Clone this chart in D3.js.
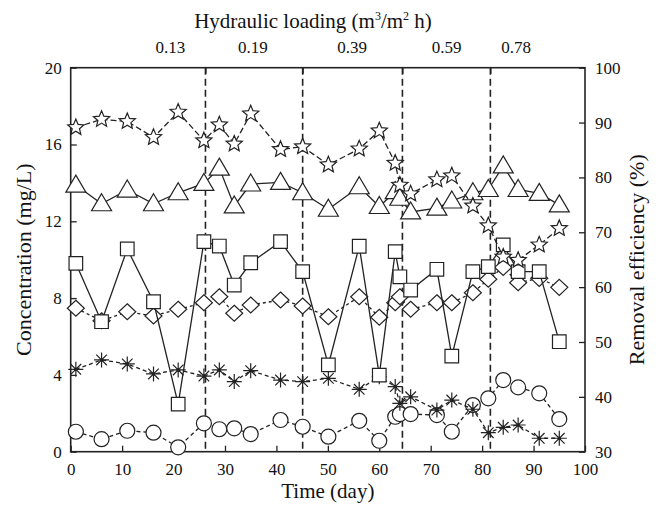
<!doctype html>
<html>
<head>
<meta charset="utf-8">
<script src="https://d3js.org/d3.v7.min.js"></script>
<style>
  body { margin: 0; background: #fff; }
  text { font-family: "Liberation Serif", "Times New Roman", serif; fill: #111; }
</style>
</head>
<body>
<svg id="chart"></svg>
<script>

    // sampling days (shared by every series)
    var days = [1, 6, 11, 16.1, 20.9, 25.9, 28.9, 31.8, 35, 40.8, 45.1, 50.1, 56.1, 60,
        63.1, 64, 66.1, 71.2, 74.1, 78.2, 81.2, 84.1, 87, 91.1, 95];

    // removal efficiency (%), right axis
    var starVals = [89.1, 90.6, 90.2, 87.3, 91.9, 86.7, 89.6, 86.1, 91.6, 85.1, 85.6, 82.3, 85.2, 88.5,
        82.6, 78.6, 77.0, 79.6, 80.3, 74.8, 71.2, 65.5, 64.9, 67.7, 70.7];
    var triVals = [78.6, 75.2, 77.7, 75.2, 77.2, 78.9, 81.7, 74.8, 78.8, 79.1, 77.2, 74.2, 78.3, 74.7,
        77.4, 76.2, 73.7, 74.4, 75.7, 77.2, 77.8, 82.1, 77.8, 77.1, 75.0];

    // concentration (mg/L), left axis
    var squareVals = [9.81, 6.77, 10.56, 7.81, 2.48, 10.94, 10.71, 8.68, 9.84, 10.94, 9.38, 4.52, 10.7, 3.99,
        10.42, 9.11, 8.42, 9.5, 4.98, 9.38, 9.64, 10.77, 9.38, 9.38, 5.73];
    var diamondVals = [7.47, 6.82, 7.29, 7.07, 7.42, 7.76, 8.07, 7.21, 7.64, 7.9, 7.59, 7.03, 8.07, 7.0,
        7.76, 8.07, 7.42, 7.76, 7.76, 8.28, 8.98, 9.6, 8.8, 9.03, 8.56];
    var asteriskVals = [4.29, 4.78, 4.57, 4.05, 4.26, 3.94, 4.26, 3.65, 4.22, 3.73, 3.65, 3.82, 3.25, 3.91,
        3.39, 2.52, 2.86, 2.17, 2.69, 2.21, 0.99, 1.27, 1.39, 0.7, 0.7];
    var circleVals = [1.04, 0.65, 1.09, 0.99, 0.23, 1.48, 1.17, 1.22, 0.92, 1.65, 1.30, 0.78, 1.61, 0.57,
        1.82, 1.96, 1.96, 1.91, 1.04, 2.43, 2.78, 3.73, 3.35, 3.04, 1.70];

    // hydraulic loading periods
    var loadingBreaks = [26.2, 45.1, 64.5, 81.6];
    var loadingLabels = ["0.13", "0.19", "0.39", "0.59", "0.78"];
    var loadingLabelDays = [19.4, 35.4, 54.7, 73.1, 86.6];

    var xTicks = d3.range(0, 101, 10),
        leftTicks = [0, 4, 8, 12, 16, 20],
        rightTicks = [30, 40, 50, 60, 70, 80, 90, 100];

    var W = 661, H = 511;
    var plotL = 70.7, plotR = 585, plotT = 67.7, plotB = 451.7;

    var svg = d3.select("#chart").attr("width", W).attr("height", H);
    svg.append("rect").attr("width", W).attr("height", H).attr("fill", "#fff");

    var x = d3.scaleLinear().domain([0, 100]).range([plotL, plotR]);
    var yL = d3.scaleLinear().domain([0, 20]).range([plotB, plotT]);
    var yR = d3.scaleLinear().domain([30, 100]).range([plotB, plotT]);

    // axes
    var gx = svg.append("g").attr("transform", "translate(0," + plotB + ")")
        .call(d3.axisBottom(x).tickValues(xTicks).tickSizeInner(-6).tickSizeOuter(0).tickPadding(11));
    var gl = svg.append("g").attr("transform", "translate(" + plotL + ",0)")
        .call(d3.axisLeft(yL).tickValues(leftTicks).tickSizeInner(-6).tickSizeOuter(0).tickPadding(9));
    var gr = svg.append("g").attr("transform", "translate(" + plotR + ",0)")
        .call(d3.axisRight(yR).tickValues(rightTicks).tickSizeInner(-6).tickSizeOuter(0).tickPadding(10));
    var gt = svg.append("g").attr("transform", "translate(0," + plotT + ")")
        .call(d3.axisTop(x).tickValues(loadingBreaks).tickSizeInner(-6).tickSizeOuter(0).tickFormat(""));

    [gx, gl, gr, gt].forEach(function (g) {
        g.select(".domain").remove();
        g.selectAll(".tick line").attr("stroke", "#222").attr("stroke-width", 1.3);
        g.selectAll(".tick text").style("font-family", "Liberation Serif").style("font-size", "17px").attr("fill", "#111");
    });

    // period separators
    svg.selectAll(".sep").data(loadingBreaks).enter().append("line")
        .attr("class", "sep")
        .attr("x1", function (d) { return x(d); })
        .attr("x2", function (d) { return x(d); })
        .attr("y1", plotT).attr("y2", plotB)
        .attr("stroke", "#222").attr("stroke-width", 1.6)
        .attr("stroke-dasharray", "7,4");

    svg.append("rect")
        .attr("x", plotL).attr("y", plotT)
        .attr("width", plotR - plotL).attr("height", plotB - plotT)
        .attr("fill", "none").attr("stroke", "#222").attr("stroke-width", 1.6);

    // marker shapes
    function starPath(R) {
        var r = R * 0.45, p = [];
        for (var i = 0; i < 10; i++) {
            var a = -Math.PI / 2 + i * Math.PI / 5, rr = i % 2 ? r : R;
            p.push([rr * Math.cos(a), rr * Math.sin(a)]);
        }
        return "M" + p.join("L") + "Z";
    }
    var shapes = {
        star: starPath(8.5),
        triangle: "M0,-10L10,7L-10,7Z",
        square: "M-6.8,-6.8H6.8V6.8H-6.8Z",
        diamond: "M0,-8L8.5,0L0,8L-8.5,0Z",
        circle: "M7.5,0A7.5,7.5 0 1,1 -7.5,0A7.5,7.5 0 1,1 7.5,0Z",
        asterisk: "M0,-7.5V7.5M-7.5,0H7.5M-5.3,-5.3L5.3,5.3M-5.3,5.3L5.3,-5.3"
    };

    var series = [
        { vals: circleVals, y: yL, shape: "circle", dash: "4,3" },
        { vals: asteriskVals, y: yL, shape: "asterisk", dash: "4,3" },
        { vals: diamondVals, y: yL, shape: "diamond", dash: "3,3" },
        { vals: squareVals, y: yL, shape: "square", dash: null },
        { vals: triVals, y: yR, shape: "triangle", dash: null },
        { vals: starVals, y: yR, shape: "star", dash: "6,3" }
    ];

    series.forEach(function (s) {
        var pts = days.map(function (d, i) { return [d, s.vals[i]]; });
        var line = d3.line()
            .x(function (d) { return x(d[0]); })
            .y(function (d) { return s.y(d[1]); });
        svg.append("path").datum(pts)
            .attr("d", line)
            .attr("fill", "none")
            .attr("stroke", "#222")
            .attr("stroke-width", 1.3)
            .attr("stroke-dasharray", s.dash);
        svg.selectAll(".m-" + s.shape).data(pts).enter().append("path")
            .attr("class", "m-" + s.shape)
            .attr("transform", function (d) { return "translate(" + x(d[0]) + "," + s.y(d[1]) + ")"; })
            .attr("d", shapes[s.shape])
            .attr("fill", s.shape == "asterisk" ? "none" : "#fff")
            .attr("stroke", "#222")
            .attr("stroke-width", 1.2);
        if (s.shape == "asterisk") {
            svg.selectAll(".dot-ast").data(pts).enter().append("circle")
                .attr("class", "dot-ast")
                .attr("cx", function (d) { return x(d[0]); })
                .attr("cy", function (d) { return s.y(d[1]); })
                .attr("r", 1.6).attr("fill", "#222");
        }
    });

    // titles
    svg.append("text")
        .attr("x", (plotL + plotR) / 2).attr("y", 498)
        .attr("text-anchor", "middle").style("font-size", "21px")
        .text("Time (day)");

    svg.append("text")
        .attr("transform", "translate(31," + (plotT + plotB) / 2 + ") rotate(-90)")
        .attr("text-anchor", "middle").style("font-size", "22px")
        .text("Concentration (mg/L)");

    svg.append("text")
        .attr("transform", "translate(644," + (plotT + plotB) / 2 + ") rotate(-90)")
        .attr("text-anchor", "middle").style("font-size", "22px")
        .text("Removal efficiency (%)");

    var ht = svg.append("text")
        .attr("x", 313).attr("y", 28)
        .attr("text-anchor", "middle").style("font-size", "21px");
    ht.append("tspan").text("Hydraulic loading (m");
    ht.append("tspan").attr("dy", -8).style("font-size", "12px").text("3");
    ht.append("tspan").attr("dy", 8).text("/m");
    ht.append("tspan").attr("dy", -8).style("font-size", "12px").text("2");
    ht.append("tspan").attr("dy", 8).text(" h)");

    svg.selectAll(".load").data(loadingLabels).enter().append("text")
        .attr("class", "load")
        .attr("x", function (d, i) { return x(loadingLabelDays[i]); })
        .attr("y", 53)
        .attr("text-anchor", "middle").style("font-size", "17px")
        .text(function (d) { return d; });

</script>
</body>
</html>
